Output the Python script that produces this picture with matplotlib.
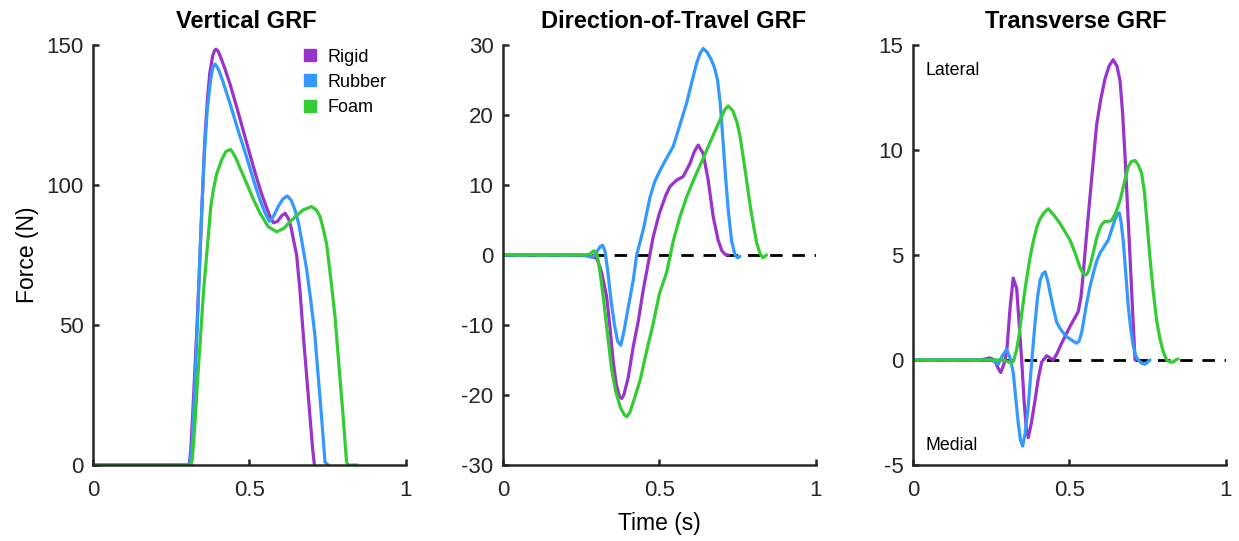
import matplotlib
matplotlib.use("Agg")
import matplotlib.pyplot as plt
from matplotlib.lines import Line2D

plt.rcParams['font.family'] = ['Liberation Sans', 'DejaVu Sans']

# ---------------- data ----------------
surfaces = ["Rigid", "Rubber", "Foam"]
colors = ["#9933CC", "#3399FF", "#33CC33"]
titles = ["Vertical GRF", "Direction-of-Travel GRF", "Transverse GRF"]

# Vertical GRF
vert_rigid_t = [0.0, 0.300, 0.307, 0.312, 0.320, 0.331, 0.341, 0.347, 0.357, 0.365, 0.373, 0.382, 0.388, 0.393,
                0.400, 0.410, 0.420, 0.438, 0.460, 0.480, 0.500, 0.523, 0.540, 0.553, 0.565, 0.577, 0.590, 0.603,
                0.614, 0.625, 0.633, 0.640, 0.651, 0.662, 0.672, 0.683, 0.694, 0.703, 0.708]
vert_rigid_v = [0, 0, 0, 5, 22, 47, 73, 90, 116, 130, 140, 146, 148, 148.5,
                147.8, 145, 142, 136, 127.5, 119.5, 111.5, 102.5, 96.5, 92.5, 89, 86.5, 87, 89,
                89.9, 88, 85, 81, 75, 62, 47, 32, 17, 5, 0]
vert_rubber_t = [0.0, 0.308, 0.315, 0.325, 0.335, 0.345, 0.355, 0.365, 0.375, 0.383, 0.390, 0.400, 0.415,
                 0.438, 0.465, 0.491, 0.515, 0.534, 0.550, 0.564, 0.578, 0.592, 0.607, 0.621, 0.634, 0.646,
                 0.657, 0.667, 0.683, 0.696, 0.709, 0.720, 0.731, 0.742, 0.752]
vert_rubber_v = [0, 0, 5, 28, 55, 85, 110, 127, 137, 142, 143.2, 141.5, 137,
                 129, 119, 110, 101, 94.6, 90, 87, 89, 92.3, 95, 96.1, 94.5, 91,
                 86.5, 80.4, 70, 59, 47, 32, 17, 1, 0]
vert_foam_t = [0.0, 0.313, 0.317, 0.325, 0.335, 0.344, 0.353, 0.363, 0.376, 0.384, 0.395, 0.411, 0.425,
               0.440, 0.455, 0.470, 0.491, 0.512, 0.534, 0.560, 0.587, 0.610, 0.630, 0.650, 0.672, 0.699,
               0.715, 0.726, 0.735, 0.747, 0.760, 0.774, 0.787, 0.800, 0.811, 0.816, 0.845]
vert_foam_v = [0, 0, 2, 14, 32, 47, 62, 75, 92, 98, 104, 109, 112,
               112.7, 110, 106, 100.6, 95, 89.9, 85.1, 83.3, 84.5, 86.9, 89, 91.1, 92.3,
               91, 88.7, 85, 79, 67, 53, 35, 17.3, 1, 0, 0]

# Direction-of-Travel GRF
dot_rigid_t = [0.0, 0.250, 0.280, 0.300, 0.315, 0.331, 0.342, 0.352, 0.362, 0.372, 0.379, 0.386, 0.400,
               0.416, 0.432, 0.448, 0.464, 0.480, 0.500, 0.520, 0.534, 0.555, 0.576, 0.598, 0.612, 0.624,
               0.640, 0.656, 0.672, 0.688, 0.700, 0.710, 0.720]
dot_rigid_v = [0, 0, -0.2, -0.5, -2.5, -6, -10.5, -15.3, -18.5, -20.2, -20.5, -20, -17.5,
               -13.1, -9.5, -5, -1.2, 2.6, 6, 8.5, 9.8, 10.7, 11.2, 13.1, 14.8, 15.7,
               14.5, 10.7, 5.5, 2.1, 0.6, 0.1, 0]
dot_rubber_t = [0.0, 0.260, 0.280, 0.290, 0.300, 0.310, 0.318, 0.326, 0.335, 0.345, 0.356, 0.366, 0.376,
                0.386, 0.400, 0.416, 0.427, 0.448, 0.470, 0.485, 0.502, 0.520, 0.544, 0.565, 0.587, 0.603,
                0.619, 0.630, 0.640, 0.652, 0.665, 0.676, 0.686, 0.695, 0.704, 0.712, 0.720, 0.731, 0.742,
                0.750, 0.758]
dot_rubber_v = [0, 0, -0.3, -0.2, 0.5, 1.2, 1.4, 0.5, -2.5, -6.5, -10, -12.3, -12.9,
                -11, -7.5, -3.6, 0, 3.6, 8.3, 10.5, 12.1, 13.6, 15.5, 18.5, 21.7, 24.6,
                27.4, 28.8, 29.5, 29.0, 28.0, 26.8, 25.0, 21.5, 16.0, 11.0, 6.5, 2.0, 0, -0.4, -0.2]
dot_foam_t = [0.0, 0.260, 0.275, 0.290, 0.300, 0.310, 0.320, 0.333, 0.347, 0.360, 0.375, 0.387, 0.395,
              0.405, 0.420, 0.438, 0.460, 0.480, 0.500, 0.523, 0.535, 0.544, 0.566, 0.587, 0.610, 0.640,
              0.665, 0.694, 0.710, 0.720, 0.735, 0.748, 0.758, 0.768, 0.779, 0.790, 0.800, 0.811, 0.822,
              0.832, 0.843]
dot_foam_v = [0, 0, 0.1, 0.6, 0.2, -2.5, -6, -11, -16.4, -19.5, -21.8, -22.8, -23.1,
              -22.5, -20.5, -17.9, -13.5, -9.8, -5.5, -2.5, 0, 2.0, 5.5, 8.3, 10.8, 13.8,
              16.4, 19.3, 20.8, 21.3, 20.6, 19.0, 17.0, 14.0, 10.7, 7.2, 4.5, 1.8, 0.2, -0.4, 0]

# Transverse GRF
tr_rigid_t = [0.0, 0.213, 0.230, 0.245, 0.260, 0.272, 0.280, 0.290, 0.299, 0.310, 0.320, 0.331, 0.340,
              0.347, 0.355, 0.362, 0.368, 0.378, 0.390, 0.400, 0.411, 0.427, 0.438, 0.448, 0.460, 0.475,
              0.502, 0.528, 0.537, 0.544, 0.555, 0.566, 0.577, 0.587, 0.600, 0.614, 0.627, 0.640, 0.652,
              0.662, 0.670, 0.678, 0.686, 0.694, 0.702, 0.710]
tr_rigid_v = [0, 0, 0.05, 0.1, 0, -0.4, -0.6, -0.2, 0.35, 2.5, 3.9, 3.4, 1.5,
              0, -2, -3.3, -3.7, -3, -1.9, -0.9, -0.1, 0.2, 0.1, 0, 0.3, 0.8,
              1.6, 2.3, 3, 4.1, 6, 7.8, 9.6, 11.2, 12.4, 13.4, 14, 14.3, 14,
              13.3, 11.8, 9.7, 7.3, 4.9, 2.4, 0]
tr_rubber_t = [0.0, 0.250, 0.262, 0.272, 0.285, 0.299, 0.310, 0.320, 0.328, 0.336, 0.343, 0.350, 0.358,
               0.368, 0.378, 0.390, 0.398, 0.406, 0.414, 0.422, 0.430, 0.438, 0.448, 0.459, 0.470, 0.480,
               0.491, 0.502, 0.512, 0.523, 0.531, 0.539, 0.547, 0.555, 0.566, 0.576, 0.587, 0.598, 0.611,
               0.624, 0.635, 0.646, 0.655, 0.660, 0.666, 0.672, 0.680, 0.688, 0.696, 0.704, 0.712, 0.720,
               0.731, 0.742, 0.750, 0.758]
tr_rubber_v = [0, 0, -0.1, -0.2, 0.2, 0.5, 0.1, -0.6, -1.8, -3, -3.8, -4.1, -3.5,
               -2.2, -0.3, 1.8, 3.0, 3.8, 4.1, 4.2, 3.8, 3.2, 2.5, 1.8, 1.5, 1.3,
               1.1, 1.0, 0.9, 0.8, 0.9, 1.3, 2.0, 2.7, 3.5, 4.1, 4.7, 5.1, 5.4,
               5.7, 6.2, 6.7, 7.0, 7.0, 6.5, 5.7, 4.2, 2.6, 1.5, 0.7, 0.2, 0,
               -0.15, -0.2, -0.1, 0]
tr_foam_t = [0.0, 0.290, 0.305, 0.315, 0.322, 0.331, 0.339, 0.347, 0.360, 0.374, 0.385, 0.395, 0.405,
             0.418, 0.432, 0.450, 0.470, 0.486, 0.502, 0.518, 0.534, 0.545, 0.553, 0.560, 0.568, 0.576,
             0.587, 0.598, 0.606, 0.614, 0.625, 0.635, 0.648, 0.662, 0.675, 0.688, 0.698, 0.710, 0.720,
             0.731, 0.740, 0.747, 0.757, 0.768, 0.779, 0.790, 0.800, 0.811, 0.822, 0.832, 0.840, 0.848]
tr_foam_v = [0, 0, -0.1, -0.15, 0, 0.5, 1.2, 2.2, 3.6, 4.9, 5.7, 6.3, 6.7,
             7.0, 7.2, 6.9, 6.5, 6.1, 5.7, 5.1, 4.4, 4.1, 4.05, 4.2, 4.6, 5.1,
             5.8, 6.3, 6.5, 6.6, 6.6, 6.65, 7.0, 7.6, 8.4, 9.2, 9.45, 9.5, 9.3,
             8.9, 8.0, 6.8, 5.0, 3.3, 1.9, 1.0, 0.4, 0, -0.1, -0.1, 0, 0.05]

panels = [
    [(vert_rigid_t, vert_rigid_v), (vert_rubber_t, vert_rubber_v), (vert_foam_t, vert_foam_v)],
    [(dot_rigid_t, dot_rigid_v), (dot_rubber_t, dot_rubber_v), (dot_foam_t, dot_foam_v)],
    [(tr_rigid_t, tr_rigid_v), (tr_rubber_t, tr_rubber_v), (tr_foam_t, tr_foam_v)],
]
ylims = [(0, 150), (-30, 30), (-5, 15)]
yticks = [[0, 50, 100, 150], [-30, -20, -10, 0, 10, 20, 30], [-5, 0, 5, 10, 15]]
xticks = [0, 0.5, 1]
xtick_labels = ["0", "0.5", "1"]
zero_x = [0, 1]
zero_y = [0, 0]

# ---------------- figure ----------------
fig = plt.figure(figsize=(12.39, 5.41), dpi=100)
lefts = [93.3 / 1239, 503.3 / 1239, 913.3 / 1239]
w = 312.3 / 1239
b = 76 / 541
h = 420 / 541
spine_c = "#262626"
title_x = [0.49, 0.545, 0.52]

axes = []
for i in range(3):
    ax = fig.add_axes([lefts[i], b, w, h])
    axes.append(ax)
    if i > 0:
        ax.plot(zero_x, zero_y, color="black", lw=2.0, dashes=(4.5, 3.5), zorder=1)
    for (t, v), c in zip(panels[i], colors):
        ax.plot(t, v, color=c, lw=2.3, solid_joinstyle="round", solid_capstyle="round", zorder=2)
    ax.set_xlim(0, 1)
    ax.set_ylim(*ylims[i])
    ax.set_xticks(xticks)
    ax.set_xticklabels(xtick_labels)
    ax.set_yticks(yticks[i])
    ax.set_yticklabels([str(y) for y in yticks[i]])
    for s in ["top", "right"]:
        ax.spines[s].set_visible(False)
    for s in ["left", "bottom"]:
        ax.spines[s].set_color(spine_c)
        ax.spines[s].set_linewidth(1.8)
    ax.tick_params(direction="in", length=4, width=1.8, color=spine_c,
                   labelsize=16, labelcolor="#262626")
    ax.tick_params(axis="y", pad=7)
    ax.tick_params(axis="x", pad=11)
    ax.set_title(titles[i], fontsize=17, fontweight="bold", pad=12, x=title_x[i])
    ax.patch.set_alpha(0)

axes[0].set_ylabel("Force (N)", fontsize=16.5, labelpad=5)
axes[1].set_xlabel("Time (s)", fontsize=16.5, labelpad=8)

handles = [Line2D([], [], marker="s", linestyle="none", markersize=8,
                  markerfacecolor=c, markeredgecolor=c) for c in colors]
axes[0].legend(handles, surfaces, loc="upper left", bbox_to_anchor=(0.66, 1.0),
               frameon=False, fontsize=13, handlelength=0.8, handletextpad=0.53,
               labelspacing=0.45, borderpad=0.2, borderaxespad=0.0)

axes[2].text(0.04, 13.8, "Lateral", fontsize=12.8, va="center", ha="left")
axes[2].text(0.04, -4.05, "Medial", fontsize=12.8, va="center", ha="left")

fig.savefig("out.png", dpi=100)
